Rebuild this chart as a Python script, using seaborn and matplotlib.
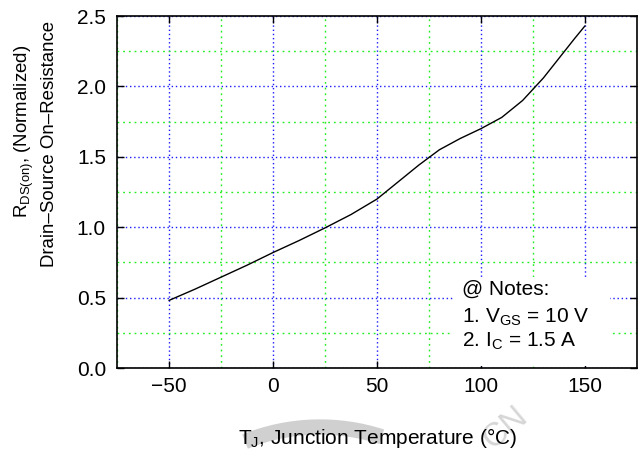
import numpy as np
import pandas as pd
import matplotlib
matplotlib.use("Agg")
import matplotlib.pyplot as plt
import seaborn as sns
from matplotlib.ticker import FixedLocator, MultipleLocator
from matplotlib.patches import Rectangle, Arc
from matplotlib.transforms import IdentityTransform

# ---- data ----
temperature = [-50, -37.5, -25, -12.5, 0, 12.5, 25, 37.5, 50, 60, 70, 80, 90, 100,
               105, 110, 115, 120, 125, 130, 137.5, 145, 150]
rds_norm = [0.48, 0.56, 0.645, 0.73, 0.82, 0.905, 0.995, 1.09, 1.2, 1.32, 1.44, 1.55, 1.63, 1.70,
            1.74, 1.78, 1.84, 1.90, 1.98, 2.06, 2.20, 2.34, 2.43]
x_ticks = [-50, 0, 50, 100, 150]
y_ticks = [0.0, 0.5, 1.0, 1.5, 2.0, 2.5]
y_tick_labels = ["0.0", "0.5", "1.0", "1.5", "2.0", "2.5"]
notes = ["@ Notes:", "1. V$_{GS}$ = 10 V", "2. I$_{C}$ = 1.5 A"]
ylabel_lines = ["R$_{DS(on)}$, (Normalized)", "Drain\u2013Source On\u2013Resistance"]
xlabel = "T$_{J}$, Junction Temperature (°C)"

sns.set_theme(style="white")
plt.rcParams['font.family'] = ['Liberation Sans', 'DejaVu Sans']
plt.rcParams['mathtext.fontset'] = 'custom'
plt.rcParams['mathtext.rm'] = 'Liberation Sans'
plt.rcParams['mathtext.it'] = 'Liberation Sans'
plt.rcParams['mathtext.default'] = 'regular'
plt.rcParams['axes.unicode_minus'] = True

FS = 15
fig = plt.figure(figsize=(6.4, 4.57), dpi=100)
ax = fig.add_axes([117/640, 1 - 368/457, 520/640, 352/457])

# faint watermark fragments (behind everything)
fig.add_artist(Arc((320, -170), 400, 400, theta1=72, theta2=112,
                   transform=IdentityTransform(), color='#d0d0d0', linewidth=11, zorder=-1))
fig.text(505/640, 1 - 428/457, "CN", rotation=40, color='#d6d6d6', fontsize=24,
         ha='center', va='center', zorder=-1)

df = pd.DataFrame({'T': temperature, 'R': rds_norm})
sns.lineplot(data=df, x='T', y='R', ax=ax, color='black', linewidth=1.0, zorder=5)

ax.set_xlim(-75, 175)
ax.set_ylim(0, 2.5)
ax.xaxis.set_major_locator(FixedLocator(x_ticks))
ax.xaxis.set_minor_locator(MultipleLocator(25))
ax.yaxis.set_major_locator(FixedLocator(y_ticks))
ax.yaxis.set_minor_locator(MultipleLocator(0.25))
ax.set_yticklabels(y_tick_labels)

ax.set_axisbelow(True)
ax.grid(which='major', color='#1a1aff', linestyle=(0, (1, 2)), linewidth=1.0)
ax.grid(which='minor', color='#22ee22', linestyle=(0, (1.3, 2.8)), linewidth=1.0)

for s in ax.spines.values():
    s.set_color('black')
    s.set_linewidth(1.2)

ax.tick_params(which='major', direction='in', length=5, width=1, color='black',
               top=True, right=True, bottom=True, left=True, labelsize=FS, labelcolor='black')
ax.tick_params(axis='x', which='major', pad=6.5)
ax.tick_params(axis='y', which='major', pad=8)
ax.tick_params(which='minor', length=0)

ax.set_xlabel(xlabel, fontsize=FS, color='black')
ax.xaxis.set_label_coords(0.502, -0.165)
ax.xaxis.label.set_va('top')
ax.set_ylabel("")

YFS = 13.4
fig.text(24/640, 1 - 131/457, ylabel_lines[0], rotation=90, fontsize=YFS,
         ha='center', va='center', color='black')
fig.text(50/640, 1 - 144/457, ylabel_lines[1], rotation=90, fontsize=YFS,
         ha='center', va='center', color='black')

# notes box
ax.add_patch(Rectangle((0.646, 0.006), 0.302, 0.253, transform=ax.transAxes,
                       facecolor='white', edgecolor='none', zorder=3))
for txt, yb in zip(notes, [0.207, 0.128, 0.060]):
    ax.text(0.663, yb, txt, transform=ax.transAxes, fontsize=FS, color='black',
            va='baseline', ha='left', zorder=6)

fig.savefig("out.png", dpi=100)
